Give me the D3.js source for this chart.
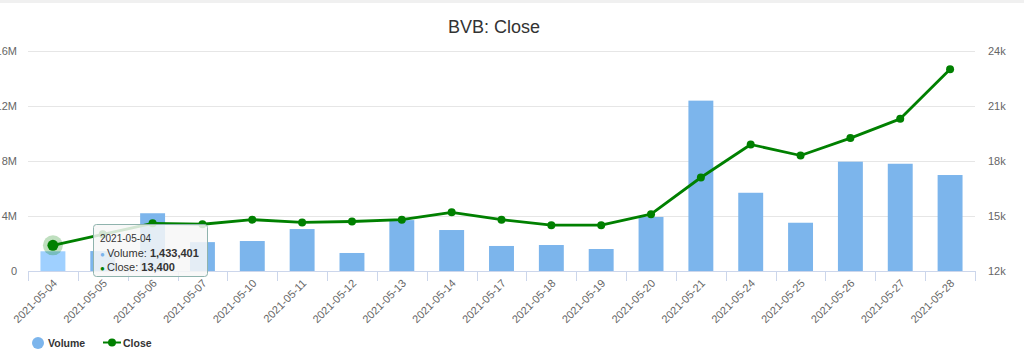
<!DOCTYPE html>
<html><head><meta charset="utf-8">
<script src="https://cdn.jsdelivr.net/npm/d3@7"></script>
<style>
body{margin:0;background:#fff;}
svg{font-family:"Liberation Sans",Arial,Helvetica,sans-serif;display:block;}
</style></head>
<body><svg id="c" width="1024" height="356"></svg>
<script>
const dates = ["2021-05-04","2021-05-05","2021-05-06","2021-05-07","2021-05-10","2021-05-11","2021-05-12","2021-05-13","2021-05-14","2021-05-17","2021-05-18","2021-05-19","2021-05-20","2021-05-21","2021-05-24","2021-05-25","2021-05-26","2021-05-27","2021-05-28"];
const volume = [1433401,1450000,4200000,2100000,2180000,3050000,1310000,3700000,2980000,1820000,1890000,1600000,3930000,12390000,5690000,3510000,7950000,7800000,6980000];
const close = [13400,14000,14600,14550,14800,14650,14700,14800,15200,14800,14500,14500,15100,17100,18900,18300,19250,20300,23000];
const volTicks = [0,4000000,8000000,12000000,16000000];
const volTickLabels = ["0","4M","8M","12M","16M"];
const closeTicks = [12000,15000,18000,21000,24000];
const closeTickLabels = ["12k","15k","18k","21k","24k"];
const title = "BVB: Close";
const hoverIndex = 0;

const svg = d3.select("#c");
const L = 28, R = 975, T = 51, B = 271;

svg.append("rect").attr("x",0).attr("y",0).attr("width",1024).attr("height",3).attr("fill","#f0f0f0");

const x = d3.scaleBand().domain(dates).range([L,R]).paddingInner(0.5).paddingOuter(0.25);
const xb = d3.scaleBand().domain(dates).range([L,R]);
const yV = d3.scaleLinear().domain([0,16000000]).range([B,T]);
const yC = d3.scaleLinear().domain([12000,24000]).range([B,T]);

svg.append("text").attr("x",494).attr("y",33).attr("text-anchor","middle")
  .attr("font-size",18).attr("fill","#333").text(title);

// grid
svg.append("g").selectAll("line").data(volTicks).join("line")
  .attr("x1",L).attr("x2",R).attr("y1",d=>yV(d)+0.5).attr("y2",d=>yV(d)+0.5)
  .attr("stroke","#e6e6e6").attr("stroke-width",1);

// left axis
const gl = svg.append("g").attr("transform",`translate(${L-11},0)`)
  .call(d3.axisLeft(yV).tickValues(volTicks).tickFormat((d,i)=>volTickLabels[i]).tickSize(0).tickPadding(0));
gl.select(".domain").remove();
gl.selectAll("text").attr("font-size",11).attr("fill","#666").attr("font-family","Liberation Sans,Arial,sans-serif");

// right axis
const gr = svg.append("g").attr("transform",`translate(${R+13},0)`)
  .call(d3.axisRight(yC).tickValues(closeTicks).tickFormat((d,i)=>closeTickLabels[i]).tickSize(0).tickPadding(0));
gr.select(".domain").remove();
gr.selectAll("text").attr("font-size",11).attr("fill","#666").attr("font-family","Liberation Sans,Arial,sans-serif");

// bars
svg.append("g").selectAll("rect").data(dates).join("rect")
  .attr("x",d=>x(d)).attr("width",x.bandwidth())
  .attr("y",(d,i)=>yV(volume[i])).attr("height",(d,i)=>B-yV(volume[i]))
  .attr("fill",(d,i)=>i===hoverIndex?"#9fd0ff":"#7cb5ec");

// x axis
svg.append("line").attr("x1",L).attr("x2",R).attr("y1",B+0.5).attr("y2",B+0.5).attr("stroke","#ccd6eb");
const tickPos = dates.map(d=>xb(d)).concat([R]);
svg.append("g").selectAll("line").data(tickPos).join("line")
  .attr("x1",d=>Math.round(d)+0.5).attr("x2",d=>Math.round(d)+0.5).attr("y1",B).attr("y2",B+10)
  .attr("stroke","#ccd6eb");
svg.append("g").selectAll("text").data(dates).join("text")
  .attr("transform",d=>`translate(${xb(d)+xb.bandwidth()/2+5},${B+13}) rotate(-45)`)
  .attr("text-anchor","end").attr("font-size",11).attr("fill","#666").text(d=>d);

// line
const cx = d=>xb(d)+xb.bandwidth()/2;
const line = d3.line().x((d,i)=>cx(dates[i])).y(d=>yC(d));
svg.append("path").datum(close).attr("d",line).attr("fill","none")
  .attr("stroke","#008000").attr("stroke-width",2.8).attr("stroke-linejoin","round");
svg.append("circle").attr("cx",cx(dates[hoverIndex])).attr("cy",yC(close[hoverIndex])).attr("r",10)
  .attr("fill","#008000").attr("fill-opacity",0.25);
svg.append("g").selectAll("circle").data(close).join("circle")
  .attr("cx",(d,i)=>cx(dates[i])).attr("cy",d=>yC(d)).attr("r",(d,i)=>i===hoverIndex?5.5:4)
  .attr("fill","#008000");

// tooltip
const tt = svg.append("g");
tt.append("rect").attr("x",93.5).attr("y",224.5).attr("width",114).attr("height",52).attr("rx",3)
  .attr("fill","rgba(247,247,247,0.85)").attr("stroke","#8fb3ad").attr("stroke-width",1);
tt.append("text").attr("x",100).attr("y",242).attr("font-size",10).attr("fill","#333").text(dates[hoverIndex]);
const fmt = d3.format(",");
const t1 = tt.append("text").attr("x",100).attr("y",257).attr("font-size",11).attr("fill","#333");
t1.append("tspan").attr("fill","#7cb5ec").text("● ").attr("font-size",8);
t1.append("tspan").text("Volume: ");
t1.append("tspan").attr("font-weight","bold").text(fmt(volume[hoverIndex]));
const t2 = tt.append("text").attr("x",100).attr("y",271).attr("font-size",11).attr("fill","#333");
t2.append("tspan").attr("fill","#008000").text("● ").attr("font-size",8);
t2.append("tspan").text("Close: ");
t2.append("tspan").attr("font-weight","bold").text(fmt(close[hoverIndex]));

// legend
const lg = svg.append("g");
lg.append("circle").attr("cx",38).attr("cy",343).attr("r",6).attr("fill","#7cb5ec");
lg.append("text").attr("x",48).attr("y",347).attr("font-size",10.5).attr("font-weight","bold").attr("fill","#333").text("Volume");
lg.append("line").attr("x1",103).attr("x2",121).attr("y1",342.5).attr("y2",342.5).attr("stroke","#008000").attr("stroke-width",2);
lg.append("circle").attr("cx",112).attr("cy",342.5).attr("r",4).attr("fill","#008000");
lg.append("text").attr("x",123).attr("y",347).attr("font-size",10.5).attr("font-weight","bold").attr("fill","#333").text("Close");
</script></body></html>
